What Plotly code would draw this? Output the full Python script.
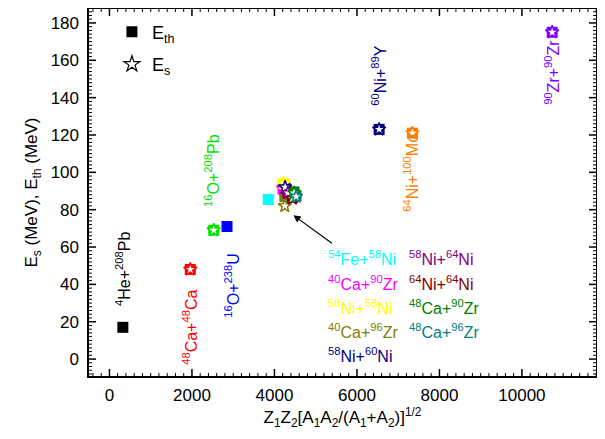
import plotly.graph_objects as go

# ---- data ----
systems = ["<sup>4</sup>He+<sup>208</sup>Pb", "<sup>48</sup>Ca+<sup>48</sup>Ca",
           "<sup>16</sup>O+<sup>208</sup>Pb", "<sup>16</sup>O+<sup>238</sup>U",
           "<sup>54</sup>Fe+<sup>58</sup>Ni", "<sup>40</sup>Ca+<sup>90</sup>Zr",
           "<sup>58</sup>Ni+<sup>58</sup>Ni", "<sup>40</sup>Ca+<sup>96</sup>Zr",
           "<sup>58</sup>Ni+<sup>60</sup>Ni", "<sup>58</sup>Ni+<sup>64</sup>Ni",
           "<sup>64</sup>Ni+<sup>64</sup>Ni", "<sup>48</sup>Ca+<sup>90</sup>Zr",
           "<sup>48</sup>Ca+<sup>96</sup>Zr", "<sup>60</sup>Ni+<sup>89</sup>Y",
           "<sup>64</sup>Ni+<sup>100</sup>Mo", "<sup>90</sup>Zr+<sup>90</sup>Zr"]
x_param = [325, 1960, 2528, 2850, 3850, 4210, 4222, 4251, 4258, 4325, 4435,
           4476, 4525, 6538, 7346, 10733]
E_th = [17, 48, 69, 71, 85.5, 91, 94, 87, 91.5, 89, 86.5, 89.5, 87.5, 123, 121, 175]
E_s = [None, 48, 69, None, None, 91.5, 94, 82, 92, 89, 86, 89, 87, 123, 121, 175]
colors = ["#000000", "#FF0000", "#00E000", "#0000FF", "#00FFFF", "#FF00FF",
          "#FFFF00", "#808000", "#000080", "#800080", "#800000", "#008000",
          "#008080", "#000080", "#FF8000", "#8000FF"]

FONT = "Liberation Sans, Arial, sans-serif"
X_RANGE = [-520, 11820]
Y_RANGE = [-9.6, 188]
X_MAJOR, X_MINOR = 2000, 200
Y_MAJOR, Y_MINOR = 20, 2

fig = go.Figure()

fig.add_trace(go.Scatter(
    x=x_param, y=E_th, mode="markers", showlegend=False,
    marker=dict(symbol="square", size=11, color=colors, line=dict(width=0)),
))
fig.add_trace(go.Scatter(
    x=x_param, y=E_s, mode="markers", showlegend=False,
    marker=dict(symbol="star", size=10, color="white",
                line=dict(width=1.5, color=colors)),
))
fig.add_trace(go.Scatter(x=[None], y=[None], mode="markers", name="E<sub>th</sub>",
                         legendgroup="a",
                         marker=dict(symbol="square", size=11, color="black")))
fig.add_trace(go.Scatter(x=[None], y=[None], mode="markers", name="E<sub>s</sub>",
                         legendgroup="b",
                         marker=dict(symbol="star-open", size=12, color="black",
                                     line=dict(width=1.2))))

annotations = []
rot_labels = [
    (0, 315, 48.5), (1, 1964, 17), (2, 2497, 101), (3, 2980, 39.5),
    (13, 6545, 152), (14, 7321, 100), (15, 10739, 153.5),
]
for idx, lx, ly in rot_labels:
    annotations.append(dict(x=lx, y=ly, xref="x", yref="y", text=systems[idx],
                            textangle=-90, showarrow=False,
                            font=dict(size=16, color=colors[idx], family=FONT),
                            xanchor="center", yanchor="middle"))
col_labels = [
    (4, 5260, 54), (5, 5260, 41), (6, 5260, 28), (7, 5260, 15), (8, 5260, 2),
    (9, 7224, 54), (10, 7224, 41), (11, 7224, 28), (12, 7224, 15),
]
for idx, lx, ly in col_labels:
    annotations.append(dict(x=lx, y=ly, xref="x", yref="y", text=systems[idx],
                            showarrow=False,
                            font=dict(size=16, color=colors[idx], family=FONT),
                            xanchor="left", yanchor="middle"))
annotations.append(dict(x=4460, y=77, ax=5430, ay=61.5, xref="x", yref="y",
                        axref="x", ayref="y", text="", showarrow=True,
                        arrowhead=2, arrowsize=1.2, arrowwidth=1.2,
                        arrowcolor="black"))

# ---- frame and inside ticks on all four sides (drawn as shapes) ----
shapes = [dict(type="rect", xref="paper", yref="paper", x0=0, x1=1, y0=0, y1=1,
               line=dict(color="black", width=2), fillcolor="rgba(0,0,0,0)",
               layer="above")]


def tick_values(rng, step):
    start = int(rng[0] // step) * step
    v = start
    out = []
    while v <= rng[1]:
        if v >= rng[0]:
            out.append(v)
        v += step
    return out


for v in tick_values(X_RANGE, X_MINOR):
    major = v % X_MAJOR == 0
    ln, w = (8, 1.5) if major else (4, 1)
    for anchor, sign in ((0, 1), (1, -1)):
        shapes.append(dict(type="line", xref="x", yref="paper", ysizemode="pixel",
                           yanchor=anchor, x0=v, x1=v, y0=0, y1=sign * ln,
                           line=dict(color="black", width=w), layer="above"))
for v in tick_values(Y_RANGE, Y_MINOR):
    major = v % Y_MAJOR == 0
    ln, w = (8, 1.5) if major else (4, 1)
    for anchor, sign in ((0, 1), (1, -1)):
        shapes.append(dict(type="line", yref="y", xref="paper", xsizemode="pixel",
                           xanchor=anchor, y0=v, y1=v, x0=0, x1=sign * ln,
                           line=dict(color="black", width=w), layer="above"))

fig.update_layout(
    width=589, height=423,
    margin=dict(l=80, r=0, t=0, b=54),
    paper_bgcolor="white", plot_bgcolor="white",
    font=dict(family=FONT, color="black"),
    annotations=annotations,
    shapes=shapes,
    legend=dict(x=0.047, y=0.985, xanchor="left", yanchor="top",
                font=dict(size=18, family=FONT), bgcolor="rgba(0,0,0,0)",
                tracegroupgap=6),
    xaxis=dict(range=X_RANGE, dtick=X_MAJOR, tick0=0, tickformat="d",
               showline=False, ticks="", showgrid=False, zeroline=False,
               ticklabelstandoff=6,
               tickfont=dict(size=17, family=FONT, color="black"),
               title=dict(text="Z<sub>1</sub>Z<sub>2</sub>[A<sub>1</sub>A<sub>2</sub>/(A<sub>1</sub>+A<sub>2</sub>)]<sup>1/2</sup>",
                          font=dict(size=17, family=FONT), standoff=2)),
    yaxis=dict(range=Y_RANGE, dtick=Y_MAJOR, tick0=0,
               showline=False, ticks="", showgrid=False, zeroline=False,
               ticklabelstandoff=8,
               tickfont=dict(size=17, family=FONT, color="black"),
               title=dict(text="E<sub>s</sub> (MeV), E<sub>th</sub> (MeV)",
                          font=dict(size=17, family=FONT), standoff=8)),
)

fig.write_html("out.html")
